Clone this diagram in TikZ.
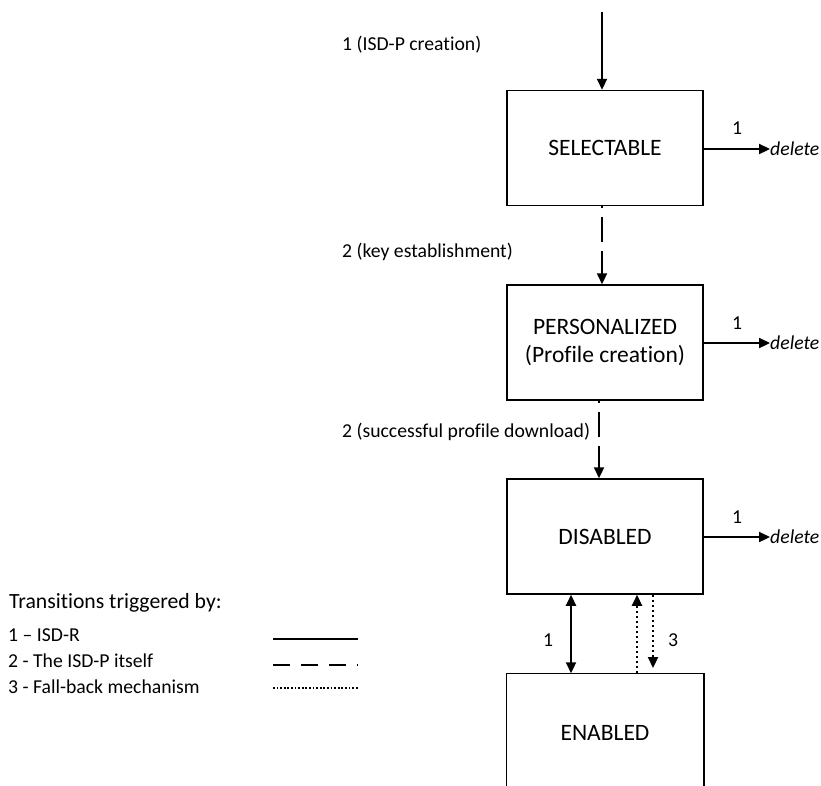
\documentclass[tikz,border=0pt]{standalone}
\usepackage{fontspec}
\setmainfont[Ligatures=NoCommon]{Carlito}
\usetikzlibrary{arrows.meta}
\begin{document}
\begin{tikzpicture}[x=1pt,y=-1pt,
  state/.style={draw, line width=1.5pt, minimum width=196pt, minimum height=115pt, inner sep=0pt, font=\fontsize{23.5}{28}\selectfont, align=center},
  lbl/.style={font=\fontsize{19.7}{23}\selectfont, inner sep=0pt, anchor=west},
  num/.style={font=\fontsize{19.7}{23}\selectfont, inner sep=0pt},
  tip/.style={-{Triangle[length=11pt,width=10pt]}},
  solidtr/.style={line width=2.2pt, tip},
  dashtr/.style={line width=2.2pt, tip, dash pattern=on 25pt off 9pt, dash phase=23pt},
  dottr/.style={line width=2.2pt, tip, dash pattern=on 2.5pt off 2.5pt},
]
\useasboundingbox (0,0) rectangle (821,785);

% states
\node[state] (sel) at (605,148) {SELECTABLE};
\node[state] (pers) at (605,342.5) {PERSONALIZED\\(Profile creation)};
\node[state] (dis) at (605,536.5) {DISABLED};
\node[state, draw=none, minimum height=118pt] (en) at (605,733) {ENABLED};
\draw[line width=1.5pt] (en.south west) -- (en.north west) -- (en.north east) -- (en.south east);

% entry
\coordinate (start) at (602,12);
\draw[solidtr] (start) -- (start |- sel.north);
\node[lbl] (l1) at (342,45) {1 (ISD-P creation)};

% delete transitions
\node[lbl] (d1) at (770,149) {\textit{delete}};
\node[lbl] (d2) at (770,343) {\textit{delete}};
\node[lbl] (d3) at (770,537) {\textit{delete}};
\draw[solidtr] (sel.east |- d1.west) -- (d1.west);
\draw[solidtr] (pers.east |- d2.west) -- (d2.west);
\draw[solidtr] (dis.east |- d3.west) -- (d3.west);
\node[num] (n1) at (737,128) {1};
\node[num] (n2) at (737,323) {1};
\node[num] (n3) at (737,517) {1};

% ISD-P transitions
\coordinate (c1) at (602,0);
\draw[dashtr] (c1 |- sel.south) -- (c1 |- pers.north);
\node[lbl] (l2) at (342,252) {2 (key establishment)};
\coordinate (c2) at (599,0);
\draw[dashtr] (c2 |- pers.south) -- (c2 |- dis.north);
\node[lbl] (l3) at (342,432) {2 (successful profile download)};

% disabled <-> enabled
\coordinate (c3) at (571,0);
\draw[line width=2.2pt, {Triangle[length=11pt,width=10pt]}-{Triangle[length=11pt,width=10pt]}] (c3 |- dis.south) -- (c3 |- en.north);
\node[num] (n4) at (548,640) {1};
\coordinate (c4) at (637,0);
\draw[dottr] (c4 |- en.north) -- (c4 |- dis.south);
\coordinate (c5) at (653,0);
\coordinate (c5e) at (653,668);
\draw[dottr] (c5 |- dis.south) -- (c5e);
\node[num] (n5) at (673,640) {3};

% legend
\node[lbl, font=\fontsize{21.7}{26}\selectfont] (lg0) at (9,603) {Transitions triggered by:};
\node[lbl] (lg1) at (8,635) {1 – ISD-R};
\node[lbl] (lg2) at (8,661) {2 - The ISD-P itself};
\node[lbl] (lg3) at (8,687) {3 - Fall-back mechanism};
\coordinate (s1a) at (273,639); \coordinate (s1b) at (358,639);
\coordinate (s2a) at (273,665); \coordinate (s2b) at (358,665);
\coordinate (s3a) at (273,688); \coordinate (s3b) at (358,688);
\draw[line width=2.4pt] (s1a) -- (s1b);
\draw[line width=2.4pt, dash pattern=on 17pt off 11pt] (s2a) -- (s2b);
\draw[line width=1.8pt, dash pattern=on 1.8pt off 1.8pt] (s3a) -- (s3b);
\end{tikzpicture}
\end{document}
